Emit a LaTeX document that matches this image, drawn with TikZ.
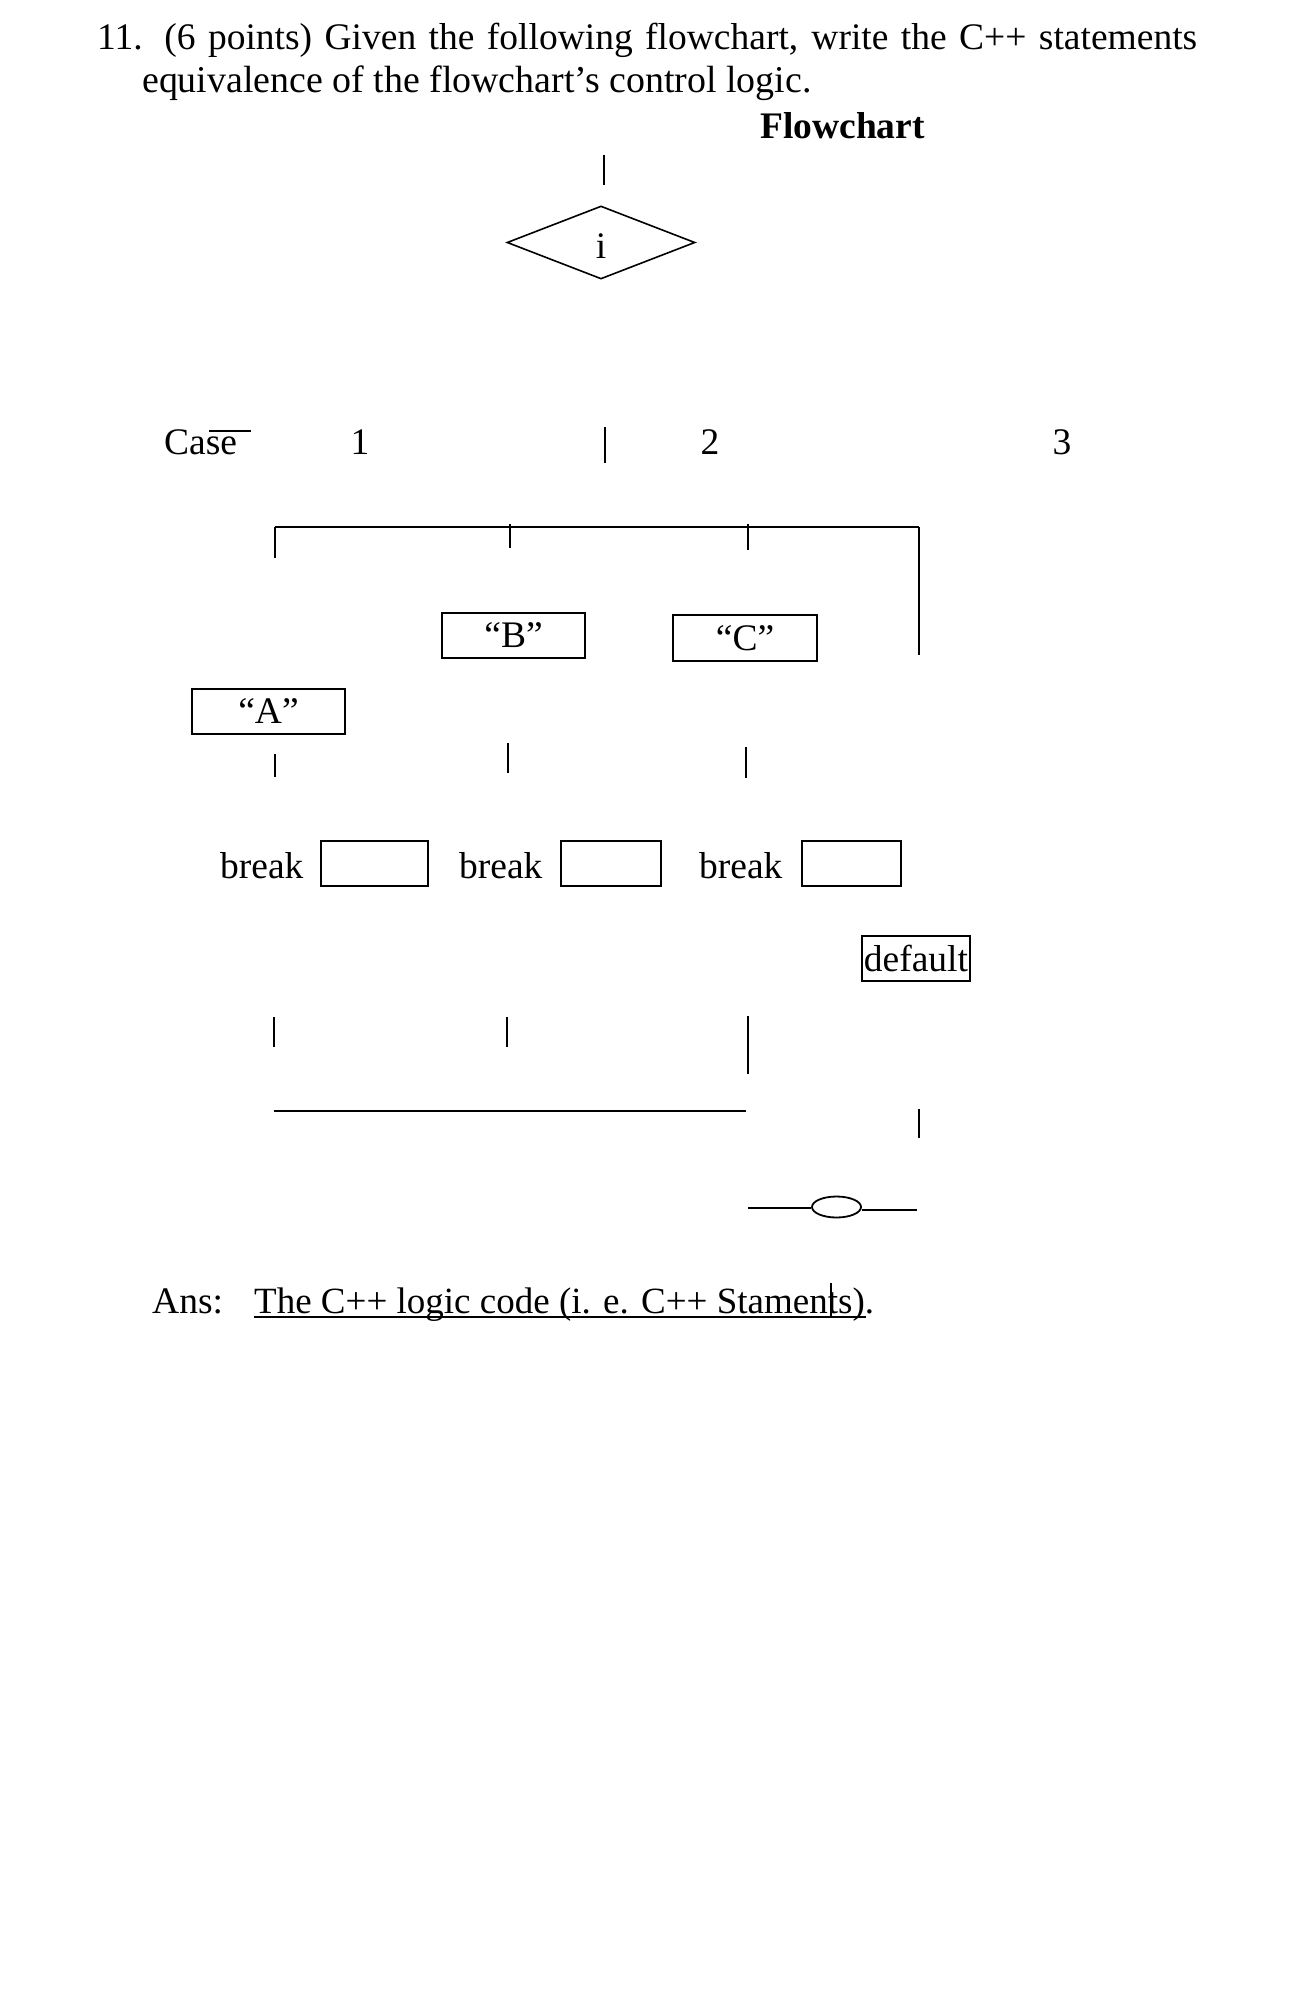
\documentclass[tikz,border=0pt]{standalone}
\usepackage{fontspec}
\setmainfont{Liberation Serif}
\usetikzlibrary{shapes.geometric}
\begin{document}
\begin{tikzpicture}[x=1pt,y=-1pt,
  font=\fontsize{37.5}{45}\selectfont,
  txt/.style={inner sep=0pt, anchor=base west},
  ctxt/.style={inner sep=0pt, anchor=base},
  flowbox/.style={draw, line width=2pt, inner sep=2pt, minimum height=45pt},
  ln/.style={line width=1.6pt}]
\useasboundingbox[fill=white] (0,0) rectangle (1290,1996);

% title
\node[txt] (t1) at (97,50) {\makebox[1100pt][s]{11. (6 points) Given the following flowchart, write the C++ statements}};
\node[txt, font=\fontsize{37.9}{45}\selectfont] (t2) at (142,93) {equivalence of the flowchart’s control logic.};
\node[txt] (t3) at (760,139) {\bfseries Flowchart};

% entry and decision
\coordinate (e1) at (604,155);
\coordinate (e2) at (604,185);
\draw[ln] (e1) -- (e2);
\node[draw, diamond, line width=1.6pt, minimum width=188pt, minimum height=73pt, inner sep=0pt] (dec) at (601,242.5) {};
\node[ctxt] (ilab) at (601,258) {i};

% case row
\node[txt] (case) at (164,454) {Case};
\coordinate (ov1) at (209,431);
\coordinate (ov2) at (251,431);
\draw[line width=1.4pt] (ov1) -- (ov2);
\node[ctxt] (c1) at (360,454) {1};
\node[ctxt] (c2) at (710,454) {2};
\node[ctxt] (c3) at (1062,454) {3};
\coordinate (m1) at (605,427);
\coordinate (m2) at (605,463);
\draw[ln] (m1) -- (m2);

% bus
\coordinate (bL) at (275,527);
\coordinate (bR) at (919,527);
\draw[ln] (bL) -- (bR);
\coordinate (dA) at (275,558);
\draw[ln] (bL) -- (dA);
\coordinate (tB1) at (510,524);
\coordinate (tB2) at (510,548);
\draw[ln] (tB1) -- (tB2);
\coordinate (tC1) at (748,524);
\coordinate (tC2) at (748,550);
\draw[ln] (tC1) -- (tC2);
\coordinate (dD) at (919,655);
\draw[ln] (bR) -- (dD);

% case boxes
\node[flowbox, minimum width=153pt] (bA) at (268.5,711.5) {“A”};
\node[flowbox, minimum width=143pt] (bB) at (513.5,635.5) {“B”};
\node[flowbox, minimum width=144pt, minimum height=46pt] (bC) at (745,638) {“C”};

% stubs below boxes
\coordinate (sA1) at (275,754);
\coordinate (sA2) at (275,777);
\draw[ln] (sA1) -- (sA2);
\coordinate (sB1) at (508,743);
\coordinate (sB2) at (508,773);
\draw[ln] (sB1) -- (sB2);
\coordinate (sC1) at (746,747);
\coordinate (sC2) at (746,778);
\draw[ln] (sC1) -- (sC2);

% break row
\node[txt] (br1) at (220,878) {break};
\node[flowbox, minimum width=107pt] (k1) at (374.5,863.5) {};
\node[txt] (br2) at (459,878) {break};
\node[flowbox, minimum width=100pt] (k2) at (611,863.5) {};
\node[txt] (br3) at (699,878) {break};
\node[flowbox, minimum width=99pt] (k3) at (851.5,863.5) {};

% default
\node[flowbox, minimum width=108pt, inner sep=1pt] (def) at (916,958.5) {default};

% lower stubs
\coordinate (lA1) at (274,1017);
\coordinate (lA2) at (274,1047);
\draw[ln] (lA1) -- (lA2);
\coordinate (lB1) at (507,1017);
\coordinate (lB2) at (507,1047);
\draw[ln] (lB1) -- (lB2);
\coordinate (lC1) at (748,1016);
\coordinate (lC2) at (748,1074);
\draw[ln] (lC1) -- (lC2);
\coordinate (jL) at (274,1111);
\coordinate (jR) at (746,1111);
\draw[line width=2pt] (jL) -- (jR);
\coordinate (lD1) at (919,1109);
\coordinate (lD2) at (919,1138);
\draw[ln] (lD1) -- (lD2);

% connector
\node[draw, ellipse, line width=1.8pt, minimum width=49pt, minimum height=21pt, inner sep=0pt] (conn) at (836.5,1207) {};
\coordinate (cl) at (748,1208);
\coordinate (cr) at (917,1210);
\draw[line width=1.8pt] (cl) -- (cl -| conn.west);
\draw[line width=1.8pt] (cr -| conn.east) -- (cr);

% answer
\node[txt] (ans) at (152,1313) {Ans:};
\node[txt, font=\fontsize{37}{45}\selectfont] (anst) at (254,1313) {The C++ logic code (i. e. C++ Staments).};
\coordinate (u1) at (254,1317);
\coordinate (u2) at (866,1317);
\draw[line width=2pt] (u1) -- (u2);
\coordinate (s1) at (831,1283);
\coordinate (s2) at (831,1316);
\draw[line width=1.4pt] (s1) -- (s2);
\end{tikzpicture}
\end{document}
